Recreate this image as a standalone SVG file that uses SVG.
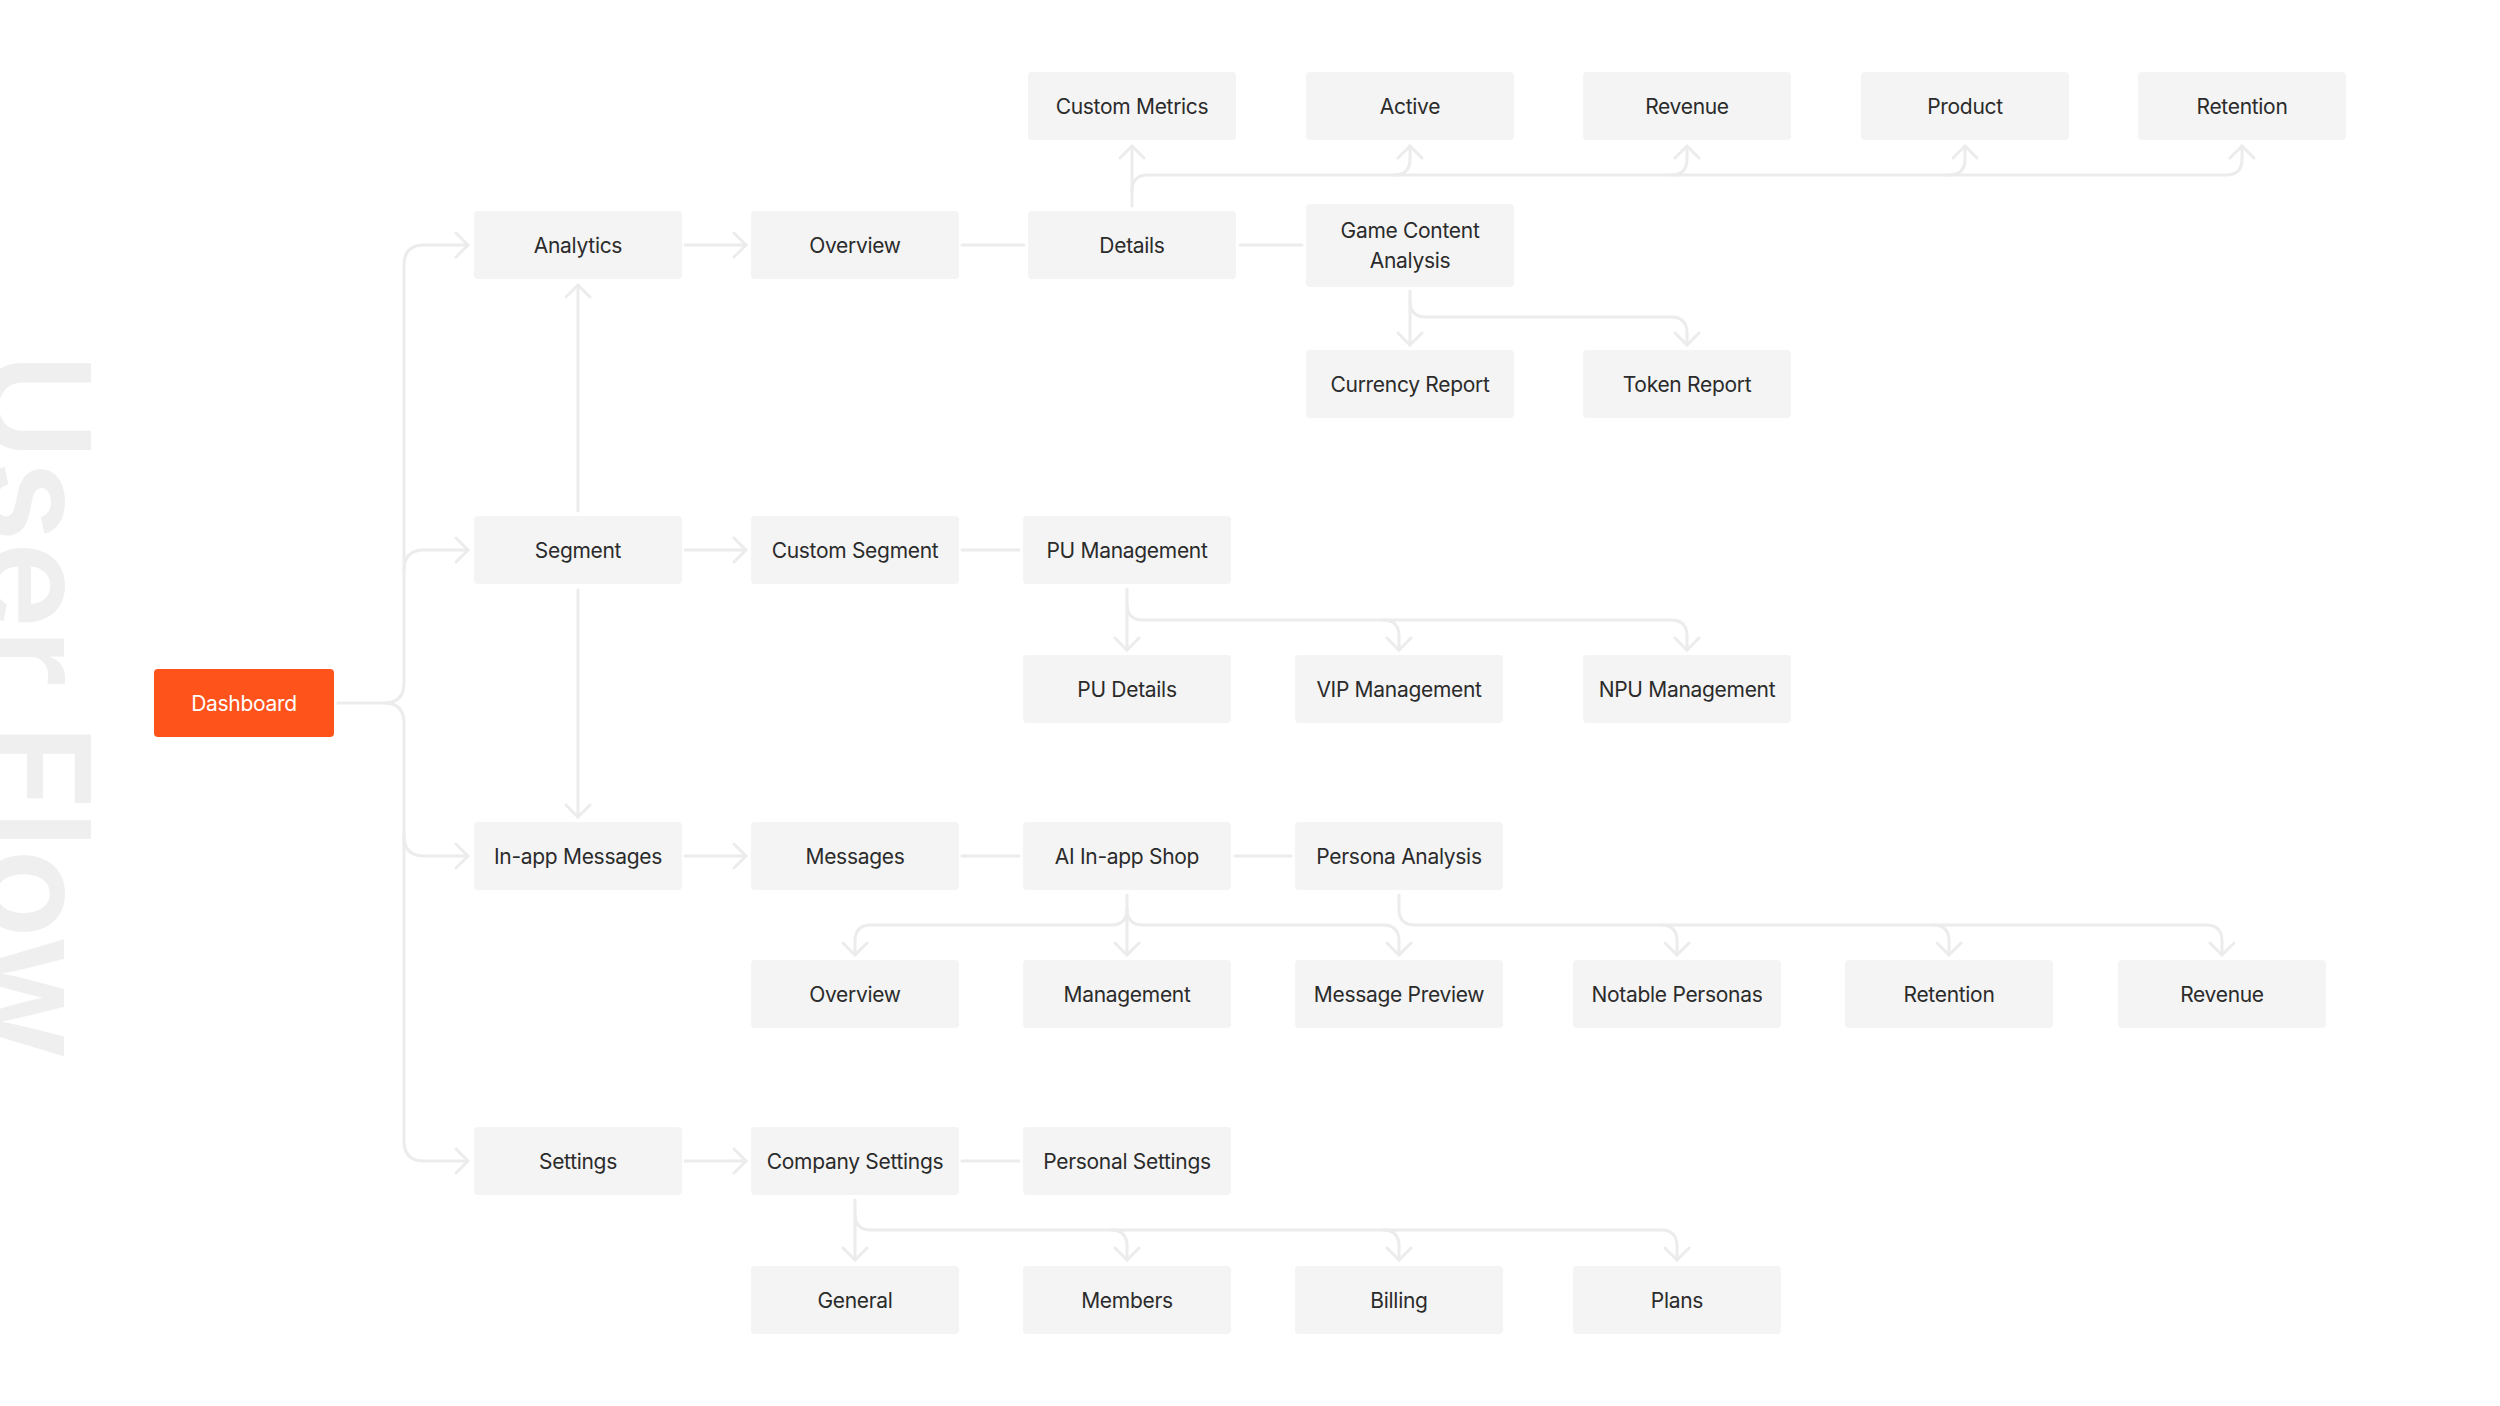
<svg xmlns="http://www.w3.org/2000/svg" width="2500" height="1406" viewBox="0 0 2500 1406">
<style>
.n rect{fill:#f4f4f4}
.n text{font-family:Inter,"Noto Sans","Liberation Sans",sans-serif;font-size:21px;letter-spacing:-0.3px;fill:#2b2b2b;text-anchor:middle}
.c path{fill:none;stroke:#ececec;stroke-width:3;stroke-linecap:round;stroke-linejoin:round}
.c .a{marker-end:url(#arr)}
.title{font-family:Inter,"Noto Sans","Liberation Sans",sans-serif;font-size:147px;font-weight:600;fill:#efefef;text-anchor:middle}
</style>
<defs>
<marker id="arr" viewBox="-14 -14 16 28" refX="0" refY="0" markerWidth="16" markerHeight="28" markerUnits="userSpaceOnUse" orient="auto" overflow="visible">
<path d="M-12,-12 L0,0 L-12,12" fill="none" stroke="#ececec" stroke-width="3" stroke-linecap="round" stroke-linejoin="round"/>
</marker>
</defs>
<rect width="2500" height="1406" fill="#ffffff"/>
<text class="title" transform="translate(-16,706) rotate(90)">User Flow</text>

<g id="connectors" class="c">
<path d="M338,703 H384 Q404,703 404,683 V265 Q404,245 424,245 H468" class="a"/>
<path d="M384,703 Q404,703 404,723 V1141 Q404,1161 424,1161 H468" class="a"/>
<path d="M404,570 Q404,550 424,550 H468" class="a"/>
<path d="M404,836 Q404,856 424,856 H468" class="a"/>
<path d="M685,245 H746" class="a"/>
<path d="M962,245 H1024"/>
<path d="M1240,245 H1302"/>
<path d="M685,550 H746" class="a"/>
<path d="M962,550 H1019"/>
<path d="M685,856 H746" class="a"/>
<path d="M962,856 H1019"/>
<path d="M1235,856 H1291"/>
<path d="M685,1161 H746" class="a"/>
<path d="M962,1161 H1019"/>
<path d="M578,511 V285" class="a"/>
<path d="M578,590 V817" class="a"/>
<path d="M1132,206 V146" class="a"/>
<path d="M1132,191 Q1132,175 1148,175 H2226 Q2242,175 2242,159 V146" class="a"/>
<path d="M1394,175 Q1410,175 1410,159 V146" class="a"/>
<path d="M1671,175 Q1687,175 1687,159 V146" class="a"/>
<path d="M1949,175 Q1965,175 1965,159 V146" class="a"/>
<path d="M1410,291 V345" class="a"/>
<path d="M1410,301 Q1410,317 1426,317 H1671 Q1687,317 1687,333 V345" class="a"/>
<path d="M1127,589 V650" class="a"/>
<path d="M1127,604 Q1127,620 1143,620 H1671 Q1687,620 1687,636 V650" class="a"/>
<path d="M1383,620 Q1399,620 1399,636 V650" class="a"/>
<path d="M1127,895 V955" class="a"/>
<path d="M1127,909 Q1127,925 1111,925 H871 Q855,925 855,941 V955" class="a"/>
<path d="M1127,909 Q1127,925 1143,925 H1383 Q1399,925 1399,941 V955" class="a"/>
<path d="M1399,895 V909 Q1399,925 1415,925 H2206 Q2222,925 2222,941 V955" class="a"/>
<path d="M1661,925 Q1677,925 1677,941 V955" class="a"/>
<path d="M1933,925 Q1949,925 1949,941 V955" class="a"/>
<path d="M855,1200 V1260" class="a"/>
<path d="M855,1214 Q855,1230 871,1230 H1661 Q1677,1230 1677,1246 V1260" class="a"/>
<path d="M1111,1230 Q1127,1230 1127,1246 V1260" class="a"/>
<path d="M1383,1230 Q1399,1230 1399,1246 V1260" class="a"/>
</g>

<g id="dashboard"><rect x="154" y="669" width="180" height="68" rx="4" fill="#ff531c"/><text x="244" y="711" style="font-family:Inter,'Noto Sans','Liberation Sans',sans-serif;font-size:21px;letter-spacing:-0.3px;fill:#ffffff;text-anchor:middle">Dashboard</text></g>

<g id="analytics" class="n"><rect x="474" y="211" width="208" height="68" rx="4"/><text x="578" y="253">Analytics</text></g>
<g id="overview" class="n"><rect x="751" y="211" width="208" height="68" rx="4"/><text x="855" y="253">Overview</text></g>
<g id="details" class="n"><rect x="1028" y="211" width="208" height="68" rx="4"/><text x="1132" y="253">Details</text></g>
<g id="game-content-analysis" class="n"><rect x="1306" y="204" width="208" height="83" rx="4"/><text x="1410" y="238">Game Content</text><text x="1410" y="268">Analysis</text></g>
<g id="custom-metrics" class="n"><rect x="1028" y="72" width="208" height="68" rx="4"/><text x="1132" y="114">Custom Metrics</text></g>
<g id="active" class="n"><rect x="1306" y="72" width="208" height="68" rx="4"/><text x="1410" y="114">Active</text></g>
<g id="revenue" class="n"><rect x="1583" y="72" width="208" height="68" rx="4"/><text x="1687" y="114">Revenue</text></g>
<g id="product" class="n"><rect x="1861" y="72" width="208" height="68" rx="4"/><text x="1965" y="114">Product</text></g>
<g id="retention" class="n"><rect x="2138" y="72" width="208" height="68" rx="4"/><text x="2242" y="114">Retention</text></g>
<g id="currency-report" class="n"><rect x="1306" y="350" width="208" height="68" rx="4"/><text x="1410" y="392">Currency Report</text></g>
<g id="token-report" class="n"><rect x="1583" y="350" width="208" height="68" rx="4"/><text x="1687" y="392">Token Report</text></g>

<g id="segment" class="n"><rect x="474" y="516" width="208" height="68" rx="4"/><text x="578" y="558">Segment</text></g>
<g id="custom-segment" class="n"><rect x="751" y="516" width="208" height="68" rx="4"/><text x="855" y="558">Custom Segment</text></g>
<g id="pu-management" class="n"><rect x="1023" y="516" width="208" height="68" rx="4"/><text x="1127" y="558">PU Management</text></g>
<g id="pu-details" class="n"><rect x="1023" y="655" width="208" height="68" rx="4"/><text x="1127" y="697">PU Details</text></g>
<g id="vip-management" class="n"><rect x="1295" y="655" width="208" height="68" rx="4"/><text x="1399" y="697">VIP Management</text></g>
<g id="npu-management" class="n"><rect x="1583" y="655" width="208" height="68" rx="4"/><text x="1687" y="697">NPU Management</text></g>

<g id="in-app-messages" class="n"><rect x="474" y="822" width="208" height="68" rx="4"/><text x="578" y="864">In-app Messages</text></g>
<g id="messages" class="n"><rect x="751" y="822" width="208" height="68" rx="4"/><text x="855" y="864">Messages</text></g>
<g id="ai-in-app-shop" class="n"><rect x="1023" y="822" width="208" height="68" rx="4"/><text x="1127" y="864">AI In-app Shop</text></g>
<g id="persona-analysis" class="n"><rect x="1295" y="822" width="208" height="68" rx="4"/><text x="1399" y="864">Persona Analysis</text></g>
<g id="overview-2" class="n"><rect x="751" y="960" width="208" height="68" rx="4"/><text x="855" y="1002">Overview</text></g>
<g id="management" class="n"><rect x="1023" y="960" width="208" height="68" rx="4"/><text x="1127" y="1002">Management</text></g>
<g id="message-preview" class="n"><rect x="1295" y="960" width="208" height="68" rx="4"/><text x="1399" y="1002">Message Preview</text></g>
<g id="notable-personas" class="n"><rect x="1573" y="960" width="208" height="68" rx="4"/><text x="1677" y="1002">Notable Personas</text></g>
<g id="retention-2" class="n"><rect x="1845" y="960" width="208" height="68" rx="4"/><text x="1949" y="1002">Retention</text></g>
<g id="revenue-2" class="n"><rect x="2118" y="960" width="208" height="68" rx="4"/><text x="2222" y="1002">Revenue</text></g>

<g id="settings" class="n"><rect x="474" y="1127" width="208" height="68" rx="4"/><text x="578" y="1169">Settings</text></g>
<g id="company-settings" class="n"><rect x="751" y="1127" width="208" height="68" rx="4"/><text x="855" y="1169">Company Settings</text></g>
<g id="personal-settings" class="n"><rect x="1023" y="1127" width="208" height="68" rx="4"/><text x="1127" y="1169">Personal Settings</text></g>
<g id="general" class="n"><rect x="751" y="1266" width="208" height="68" rx="4"/><text x="855" y="1308">General</text></g>
<g id="members" class="n"><rect x="1023" y="1266" width="208" height="68" rx="4"/><text x="1127" y="1308">Members</text></g>
<g id="billing" class="n"><rect x="1295" y="1266" width="208" height="68" rx="4"/><text x="1399" y="1308">Billing</text></g>
<g id="plans" class="n"><rect x="1573" y="1266" width="208" height="68" rx="4"/><text x="1677" y="1308">Plans</text></g>
</svg>
